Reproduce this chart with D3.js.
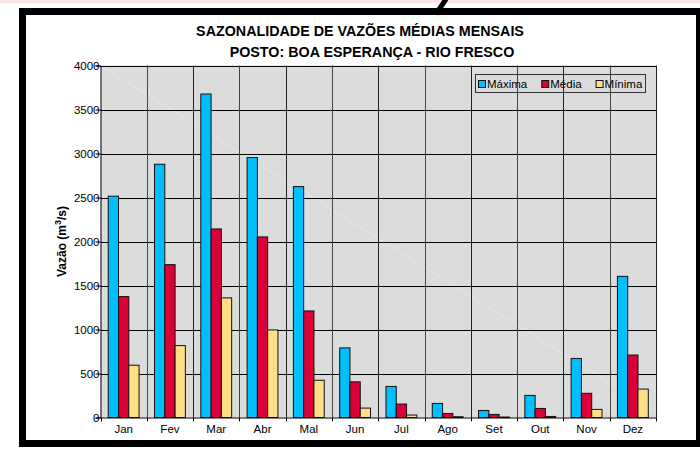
<!DOCTYPE html>
<html lang="pt">
<head>
<meta charset="utf-8">
<script src="https://d3js.org/d3.v7.min.js"></script>
<style>
  body { margin: 0; background: #fff; }
  svg text { font-family: Arial, "Liberation Sans", sans-serif; }
</style>
</head>
<body>
<div id="chart"></div>
<script>
var meses = ["Jan", "Fev", "Mar", "Abr", "Mal", "Jun", "Jul", "Ago", "Set", "Out", "Nov", "Dez"];
var series = ["Máxima", "Média", "Mínima"];
var maxima = [2515, 2878, 3676, 2954, 2624, 791, 353, 160, 80, 251, 671, 1604];
var media  = [1374, 1737, 2143, 2052, 1211, 405, 153, 46, 35, 103, 275, 710];
var minima = [594, 817, 1359, 995, 423, 107, 28, 9, 5, 12, 92, 323];
var yTicks = [0, 500, 1000, 1500, 2000, 2500, 3000, 3500, 4000];
var cores = ["#00bfff", "#db0037", "#ffdf85"];

function desenha() {
  var W = 700, H = 450;
  var svg = d3.select("#chart").append("svg")
      .attr("width", W)
      .attr("height", H);

  // faixa rosada no topo e moldura
  svg.append("rect").attr("x", 0).attr("y", 0).attr("width", W).attr("height", 3).attr("fill", "#fbe4e4");
  svg.append("rect")
      .attr("x", 22.5).attr("y", 11.5).attr("width", 677).attr("height", 432)
      .attr("fill", "none").attr("stroke", "#000").attr("stroke-width", 7);
  svg.append("line")
      .attr("x1", 446).attr("y1", -1).attr("x2", 436).attr("y2", 14)
      .attr("stroke", "#000").attr("stroke-width", 5);

  // titulo
  svg.append("text").attr("x", 360).attr("y", 36).attr("text-anchor", "middle")
      .attr("font-size", 14.3).attr("font-weight", "bold")
      .text("SAZONALIDADE DE VAZÕES MÉDIAS MENSAIS");
  svg.append("text").attr("x", 372).attr("y", 57).attr("text-anchor", "middle")
      .attr("font-size", 14.3).attr("font-weight", "bold")
      .text("POSTO: BOA ESPERANÇA - RIO FRESCO");

  var pl = 100.5, pr = 656, pt = 65.5, pb = 417.5;

  var x = d3.scaleBand().domain(meses).range([pl, pr]).padding(0);
  var bw = x.bandwidth();
  var xs = d3.scaleBand().domain(series).range([bw / 6, bw - bw / 6]).padding(0);
  var y = d3.scaleLinear().domain([0, 4000]).range([pb, pt]);

  var dados = meses.map(function(m, i) {
    return {mes: m, valores: [maxima[i], media[i], minima[i]]};
  });

  // area do grafico
  svg.append("rect")
      .attr("x", pl).attr("y", pt)
      .attr("width", pr - pl).attr("height", pb - pt)
      .attr("fill", "#dcdcdc");
  svg.append("line")
      .attr("x1", pl).attr("y1", pt).attr("x2", pr).attr("y2", pb - 6)
      .attr("stroke", "#fff").attr("stroke-opacity", 0.35).attr("stroke-width", 0.8);

  // grades
  svg.append("g").selectAll("line")
      .data(yTicks.slice(1))
      .enter().append("line")
      .attr("x1", pl).attr("x2", pr)
      .attr("y1", function(d) { return Math.round(y(d)) + 0.5; })
      .attr("y2", function(d) { return Math.round(y(d)) + 0.5; })
      .attr("stroke", "#000");
  svg.append("g").selectAll("line")
      .data(meses.slice(1))
      .enter().append("line")
      .attr("x1", function(d) { return Math.round(x(d)) + 0.5; })
      .attr("x2", function(d) { return Math.round(x(d)) + 0.5; })
      .attr("y1", pt).attr("y2", pb)
      .attr("stroke", function(d, i) { return i % 2 ? "#222" : "#444"; });
  svg.append("line")
      .attr("x1", Math.round(pr) + 0.5).attr("x2", Math.round(pr) + 0.5)
      .attr("y1", pt).attr("y2", pb).attr("stroke", "#222");

  // barras
  var grupos = svg.append("g").selectAll("g")
      .data(dados)
      .enter().append("g")
      .attr("transform", function(d) { return "translate(" + x(d.mes) + ",0)"; });
  grupos.selectAll("rect")
      .data(function(d) { return d.valores.map(function(v, j) { return {s: series[j], v: v, c: cores[j]}; }); })
      .enter().append("rect")
      .attr("x", function(d) { return xs(d.s); })
      .attr("y", function(d) { return y(d.v); })
      .attr("width", xs.bandwidth())
      .attr("height", function(d) { return pb - y(d.v); })
      .attr("fill", function(d) { return d.c; })
      .attr("stroke", "#111")
      .attr("stroke-width", 1);

  // eixos
  var yAxis = svg.append("g")
      .attr("transform", "translate(" + pl + ",0)")
      .call(d3.axisLeft(y).tickValues(yTicks).tickSize(5).tickPadding(-4).tickFormat(d3.format("d")));
  yAxis.select(".domain").attr("stroke", "#000");
  yAxis.selectAll("text").attr("font-size", 11.5).attr("fill", "#000").style("font-family", "Arial, 'Liberation Sans', sans-serif");

  var xAxis = svg.append("g")
      .attr("transform", "translate(0," + pb + ")")
      .call(d3.axisBottom(x).tickSize(0).tickPadding(7));
  xAxis.select(".domain").attr("stroke", "#000");
  xAxis.selectAll("text").attr("font-size", 11.5).attr("fill", "#000").style("font-family", "Arial, 'Liberation Sans', sans-serif");
  svg.append("g").selectAll("line")
      .data(meses.concat(["fim"]))
      .enter().append("line")
      .attr("x1", function(d, i) { return Math.round(pl + i * bw) + 0.5; })
      .attr("x2", function(d, i) { return Math.round(pl + i * bw) + 0.5; })
      .attr("y1", pb).attr("y2", pb + 4)
      .attr("stroke", "#000");

  // titulo do eixo y
  var yt = svg.append("text")
      .attr("transform", "translate(66," + ((pt + pb) / 2) + ") rotate(-90)")
      .attr("text-anchor", "middle")
      .attr("font-size", 12).attr("font-weight", "bold");
  yt.append("tspan").text("Vazão (m");
  yt.append("tspan").attr("dy", -5).attr("font-size", 9).text("3");
  yt.append("tspan").attr("dy", 5).text("/s)");

  // legenda
  var leg = svg.append("g");
  leg.append("rect")
      .attr("x", 475.5).attr("y", 74.5).attr("width", 170).attr("height", 18)
      .attr("fill", "none").attr("stroke", "#333");
  var lx = 478;
  series.forEach(function(s, i) {
    leg.append("rect").attr("x", lx + 0.5).attr("y", 80.5).attr("width", 7).attr("height", 7)
        .attr("fill", cores[i]).attr("stroke", "#111");
    var t = leg.append("text").attr("x", lx + 9).attr("y", 88)
        .attr("font-size", 11.5).text(s);
    lx = lx + 9 + t.node().getComputedTextLength() + 14;
  });
}

desenha();
</script>
</body>
</html>
